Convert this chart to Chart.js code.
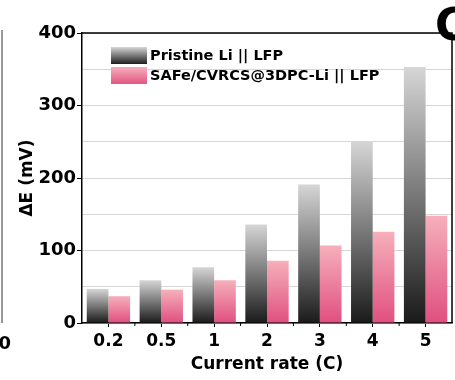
<!DOCTYPE html>
<html>
<head>
<meta charset="utf-8">
<script src="https://cdn.jsdelivr.net/npm/chart.js@4.4.1/dist/chart.umd.min.js"></script>
<style>
  html, body { margin: 0; padding: 0; background: #fff; }
  canvas { display: block; }
</style>
</head>
<body>
<canvas id="rateChart" width="455" height="380"></canvas>
<script>
// Data
const rates = ['0.2', '0.5', '1', '2', '3', '4', '5'];
const pristineValues = [47, 59, 77, 136, 191, 251, 353];
const safeValues = [37, 46, 59, 86, 107, 126, 148];
const yTicks = [0, 100, 200, 300, 400];
const seriesNames = ['Pristine Li || LFP', 'SAFe/CVRCS@3DPC-Li || LFP'];

const FONT = '"DejaVu Sans", Arial, sans-serif';

// vertical gradient for each bar, light on top, dark at the bottom
function barGradient(ctx, colorTop, colorBottom) {
    const chart = ctx.chart;
    const yScale = chart.scales.y;
    if (!yScale || typeof ctx.raw !== 'number') return colorBottom;
    const top = yScale.getPixelForValue(ctx.raw);
    const bottom = yScale.getPixelForValue(0);
    if (!isFinite(top) || !isFinite(bottom) || top === bottom) return colorBottom;
    const g = chart.ctx.createLinearGradient(0, top, 0, bottom);
    g.addColorStop(0, colorTop);
    g.addColorStop(1, colorBottom);
    return g;
}

// frame, legend and the cut-off bits of neighbouring panels
const framePlugin = {
    id: 'frame',
    afterDraw(chart) {
        const { ctx, chartArea } = chart;
        ctx.save();
        ctx.strokeStyle = '#000';
        ctx.lineWidth = 1.5;
        ctx.beginPath();
        ctx.moveTo(chartArea.left, chartArea.top);
        ctx.lineTo(chartArea.right, chartArea.top);
        ctx.lineTo(chartArea.right, chartArea.bottom);
        ctx.stroke();

        // minor ticks between categories
        const x = chart.scales.x;
        ctx.lineWidth = 1;
        for (let i = 0; i < rates.length - 1; i++) {
            const px = (x.getPixelForValue(i) + x.getPixelForValue(i + 1)) / 2;
            ctx.beginPath();
            ctx.moveTo(px, chartArea.bottom);
            ctx.lineTo(px, chartArea.bottom + 3);
            ctx.stroke();
        }

        // legend inside the plot
        const swatches = [['#d6d6d6', '#1e1e1e'], ['#f6b0bb', '#e35482']];
        ctx.font = 'bold 14.5px ' + FONT;
        ctx.textBaseline = 'middle';
        ctx.fillStyle = '#000';
        seriesNames.forEach((name, i) => {
            const top = 47 + i * 20;
            const g = ctx.createLinearGradient(0, top, 0, top + 17);
            g.addColorStop(0, swatches[i][0]);
            g.addColorStop(1, swatches[i][1]);
            ctx.fillStyle = g;
            ctx.fillRect(111, top, 36, 17);
            ctx.fillStyle = '#000';
            ctx.fillText(name, 150, top + 9);
        });

        // neighbouring panels, cut by the crop
        ctx.font = 'bold 44px ' + FONT;
        ctx.textBaseline = 'alphabetic';
        ctx.fillText('C', 435, 40);
        ctx.font = 'bold 18px ' + FONT;
        ctx.textAlign = 'right';
        ctx.fillText('0', 11, 349);
        ctx.strokeStyle = '#333';
        ctx.beginPath();
        ctx.moveTo(2, 30);
        ctx.lineTo(2, 323);
        ctx.stroke();
        ctx.restore();
    }
};

new Chart(document.getElementById('rateChart').getContext('2d'), {
    type: 'bar',
    data: {
        labels: rates,
        datasets: [{
            label: seriesNames[0],
            data: pristineValues,
            backgroundColor: ctx => barGradient(ctx, '#d6d6d6', '#1a1a1a'),
            borderWidth: 0
        }, {
            label: seriesNames[1],
            data: safeValues,
            backgroundColor: ctx => barGradient(ctx, '#f6b0bb', '#e04f80'),
            borderWidth: 0
        }]
    },
    options: {
        responsive: false,
        animation: false,
        categoryPercentage: 0.82,
        barPercentage: 1.0,
        layout: { padding: { top: 33, right: 3, left: 0, bottom: 0 } },
        plugins: {
            legend: { display: false },
            tooltip: { enabled: false }
        },
        scales: {
            x: {
                afterFit: s => { s.height = 57; },
                grid: {
                    offset: false,
                    drawOnChartArea: false,
                    tickColor: '#000',
                    tickLength: 4
                },
                border: { color: '#000', width: 1.5 },
                ticks: {
                    color: '#000',
                    padding: 4,
                    font: { family: FONT, weight: 'bold', size: 17 }
                },
                title: {
                    display: true,
                    text: 'Current rate (C)',
                    color: '#000',
                    font: { family: FONT, weight: 'bold', size: 17 },
                    padding: { top: 0, bottom: 5 }
                }
            },
            y: {
                min: 0,
                max: 400,
                afterFit: s => { s.width = 82; },
                afterBuildTicks: s => {
                    const all = [];
                    for (let v = 0; v <= 400; v += 50) all.push({ value: v });
                    s.ticks = all;
                },
                grid: {
                    color: '#d6d6d6',
                    lineWidth: 1,
                    tickColor: c => (c.tick && yTicks.includes(c.tick.value)) ? '#000' : 'rgba(0,0,0,0)',
                    tickLength: 5
                },
                border: { color: '#000', width: 1.5 },
                ticks: {
                    color: '#000',
                    padding: 1,
                    autoSkip: false,
                    font: { family: FONT, weight: 'bold', size: 18 },
                    callback: v => yTicks.includes(v) ? String(v) : ''
                },
                title: {
                    display: true,
                    text: 'ΔE (mV)',
                    color: '#000',
                    font: { family: FONT, weight: 'bold', size: 17 },
                    padding: { top: 17, bottom: 0 }
                }
            }
        }
    },
    plugins: [framePlugin]
});
</script>
</body>
</html>
